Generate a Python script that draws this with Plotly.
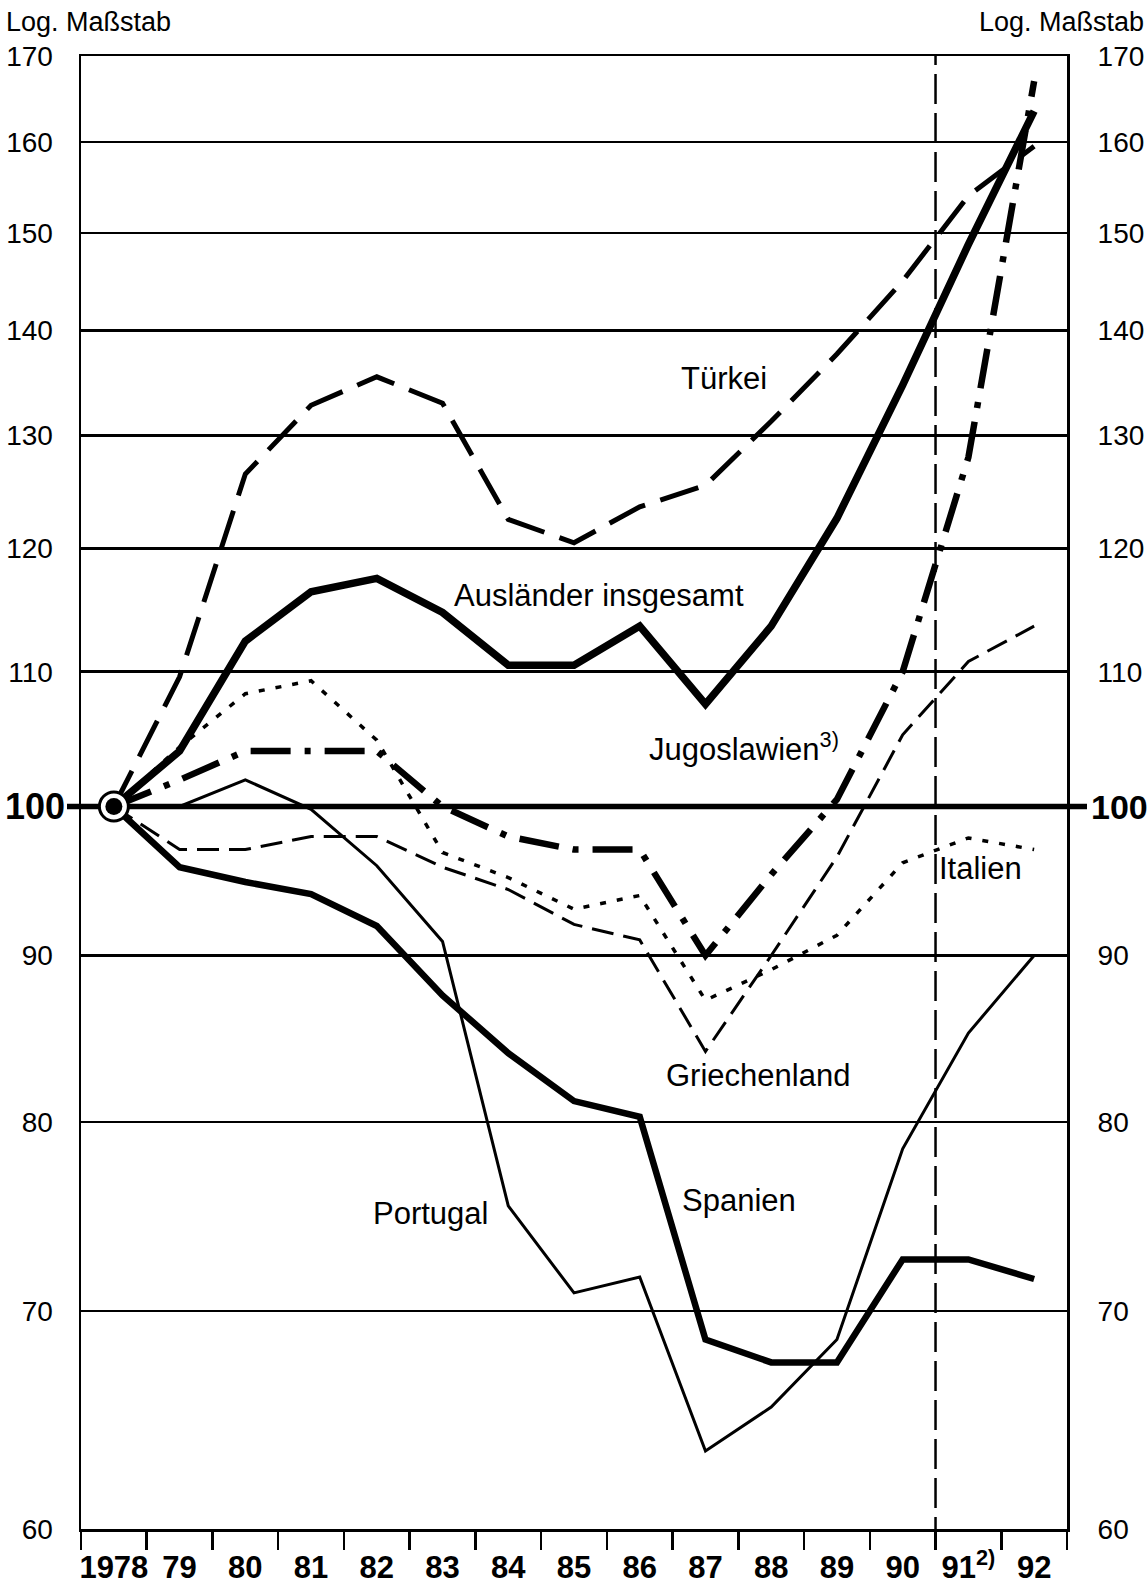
import math
import plotly.graph_objects as go

# ---------------- data ----------------
years = ["1978", "79", "80", "81", "82", "83", "84", "85", "86", "87", "88", "89", "90",
         "91<sup>2)</sup>", "92"]

auslaender   = [100, 104.0, 112.4, 116.4, 117.5, 114.7, 110.5, 110.5, 113.6, 107.5, 113.6, 122.6, 134.7, 148.8, 163.5]
tuerkei      = [100, 109.6, 126.5, 132.8, 135.5, 133.0, 122.5, 120.5, 123.6, 125.5, 131.3, 137.7, 145.0, 154.0, 159.5]
jugoslawien  = [100, 101.9, 104.0, 104.0, 104.0, 100.0, 97.9, 97.0, 97.0, 90.0, 95.3, 100.5, 110.0, 128.0, 167.0]
italien      = [100, 104.3, 108.3, 109.3, 104.8, 96.8, 95.1, 93.0, 93.9, 87.2, 89.1, 91.3, 96.1, 97.8, 97.0]
griechenland = [100, 97.0, 97.0, 97.9, 97.9, 95.8, 94.3, 92.0, 91.0, 84.1, 90.0, 96.5, 105.2, 110.8, 113.6]
spanien      = [100, 95.8, 94.8, 94.0, 91.9, 87.5, 84.0, 81.2, 80.3, 68.6, 67.5, 67.5, 72.6, 72.6, 71.6]
portugal     = [100, 100.0, 101.9, 99.8, 95.9, 90.9, 75.4, 70.9, 71.7, 63.4, 65.4, 68.6, 78.5, 85.2, 90.0]

y_ticks = [60, 70, 80, 90, 110, 120, 130, 140, 150, 160, 170]
y_min, y_max = 60, 170
base_value = 100

# label placement (x index of left edge, value of text centre)
labels = [
    ("Türkei", 8.60, 135.3),
    ("Ausländer insgesamt", 5.14, 116.1),
    ("Jugoslawien<sup>3)</sup>", 8.11, 104.3),
    ("Italien", 12.52, 95.7),
    ("Griechenland", 8.37, 82.7),
    ("Spanien", 8.61, 75.7),
    ("Portugal", 3.91, 75.0),
]

FONT = "Liberation Sans, Arial, Helvetica, sans-serif"
W, H = 1148, 1585
ML, MR, MT, MB = 81, 81, 56, 56
PW = W - ML - MR
PH = H - MT - MB

x = list(range(len(years)))

fig = go.Figure()


def add_line(vals, width, dash):
    fig.add_trace(go.Scatter(
        x=x, y=vals, mode="lines",
        line=dict(color="black", width=width, dash=dash),
        showlegend=False, hoverinfo="skip"))


add_line(portugal, 3, "solid")
add_line(griechenland, 3, "22px,10px")
add_line(italien, 3.5, "6px,11px")
add_line(spanien, 6.5, "solid")
add_line(jugoslawien, 6.5, "40px,14px,6px,14px")
add_line(tuerkei, 5, "40px,16px")
add_line(auslaender, 7.5, "solid")

# start marker (on the right-hand overlay axis so the right labels are drawn)
fig.add_trace(go.Scatter(
    x=[x[0]], y=[auslaender[0]], yaxis="y2", mode="markers", cliponaxis=False,
    marker=dict(size=29, color="white", line=dict(color="black", width=3)),
    showlegend=False, hoverinfo="skip"))
fig.add_trace(go.Scatter(
    x=[x[0]], y=[auslaender[0]], yaxis="y2", mode="markers", cliponaxis=False,
    marker=dict(size=17, color="black"),
    showlegend=False, hoverinfo="skip"))

yrange = [math.log10(y_min), math.log10(y_max)]
ytext = [str(v) for v in y_ticks]

fig.update_layout(
    width=W, height=H,
    margin=dict(l=ML, r=MR, t=MT, b=MB, pad=0, autoexpand=False),
    paper_bgcolor="white", plot_bgcolor="white",
    font=dict(family=FONT, color="black"),
    showlegend=False,
    xaxis=dict(
        range=[-0.5, len(years) - 0.5],
        tickmode="array", tickvals=x,
        ticktext=["<b>" + t + "</b>" for t in years],
        tickfont=dict(size=31, family=FONT, color="black"),
        ticks="outside", ticklen=9, tickcolor="rgba(0,0,0,0)",
        showgrid=False, zeroline=False, automargin=False,
        showline=True, linecolor="black", linewidth=2.5, mirror=True,
        minor=dict(tickvals=[i - 0.5 for i in range(len(years) + 1)],
                   ticks="outside", ticklen=18, tickwidth=2.5,
                   tickcolor="black", showgrid=False),
        fixedrange=True,
    ),
    yaxis=dict(
        type="log", range=yrange,
        tickmode="array", tickvals=y_ticks, ticktext=ytext,
        tickfont=dict(size=28, family=FONT, color="black"),
        ticks="outside", ticklen=20, tickcolor="rgba(0,0,0,0)",
        showgrid=True, gridcolor="black", gridwidth=2.5,
        zeroline=False, automargin=False,
        showline=True, linecolor="black", linewidth=2.5, mirror=True,
        fixedrange=True,
    ),
    yaxis2=dict(
        type="log", range=yrange, overlaying="y", side="right", anchor="x",
        tickmode="array", tickvals=y_ticks, ticktext=ytext,
        tickfont=dict(size=28, family=FONT, color="black"),
        ticks="outside", ticklen=24, tickcolor="rgba(0,0,0,0)",
        showgrid=False, zeroline=False, showline=False, automargin=False,
        fixedrange=True,
    ),
)

# vertical dashed separator between 90 and 91
sep = years.index("90") + 0.5
fig.add_shape(type="line", xref="x", yref="paper", x0=sep, x1=sep,
              y0=-18 / PH, y1=1,
              line=dict(color="black", width=2.5, dash="30px,9px"), layer="above")

# heavy base line at 100
fig.add_shape(type="line", xref="paper", yref="y",
              x0=-14 / PW, x1=1 + 20 / PW, y0=base_value, y1=base_value,
              line=dict(color="black", width=5.5), layer="below")

ann = []
for text, xi, yv in labels:
    ann.append(dict(text=text, x=xi, y=math.log10(yv), xref="x", yref="y",
                    xanchor="left", yanchor="middle", showarrow=False,
                    font=dict(size=31, family=FONT, color="black")))

# base value labels
ann.append(dict(text="<b>100</b>", x=-14 / PW, y=math.log10(base_value), xref="paper", yref="y",
                xanchor="right", yanchor="middle", showarrow=False,
                font=dict(size=36, family=FONT, color="black")))
ann.append(dict(text="<b>100</b>", x=1 + 22 / PW, y=math.log10(base_value), xref="paper", yref="y",
                xanchor="left", yanchor="middle", showarrow=False,
                font=dict(size=34, family=FONT, color="black")))

# scale notes
ann.append(dict(text="Log. Maßstab", x=-77 / PW, y=1 + (MT - 22) / PH, xref="paper", yref="paper",
                xanchor="left", yanchor="middle", showarrow=False,
                font=dict(size=27, family=FONT, color="black")))
ann.append(dict(text="Log. Maßstab", x=1 + (MR - 2) / PW, y=1 + (MT - 22) / PH, xref="paper", yref="paper",
                xanchor="right", yanchor="middle", showarrow=False,
                font=dict(size=27, family=FONT, color="black")))

fig.update_layout(annotations=ann)

fig.write_html("out.html",
               config={"displayModeBar": False, "staticPlot": True},
               post_script="document.body.style.margin='0';document.body.style.overflow='hidden';")
